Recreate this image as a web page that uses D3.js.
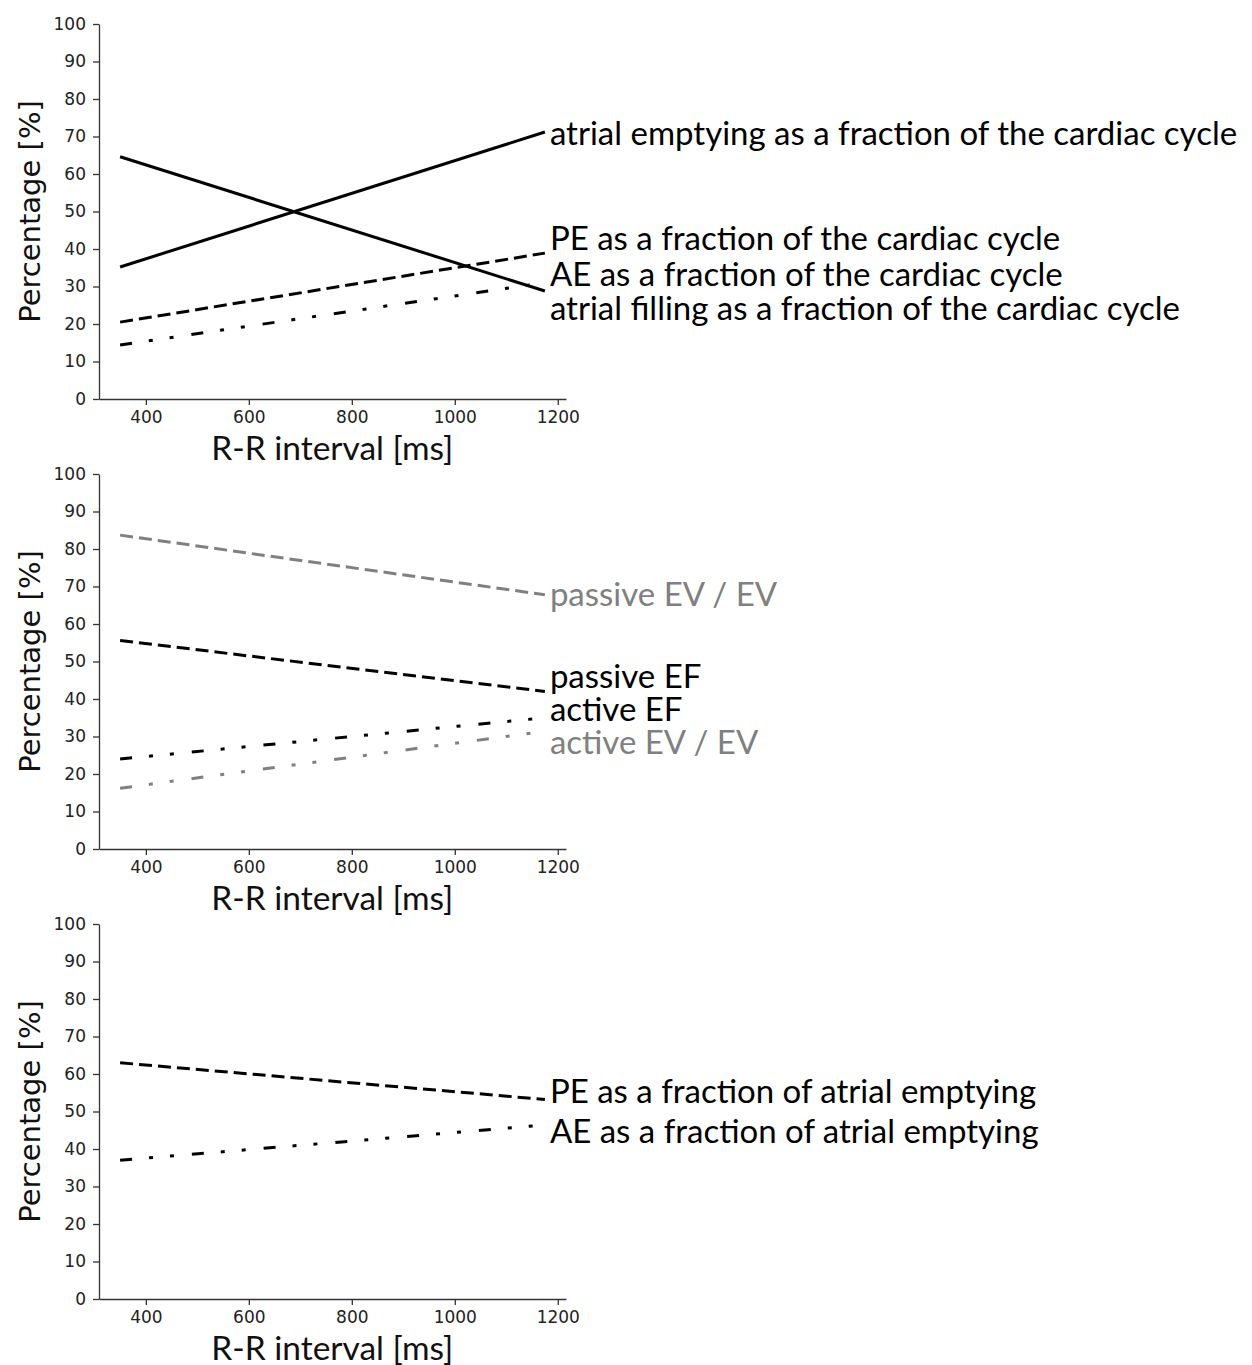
<!DOCTYPE html>
<html>
<head>
<meta charset="utf-8">
<script src="https://cdn.jsdelivr.net/npm/d3@7"></script>
<style>
  body { margin: 0; background: #fff; }
  svg { display: block; }
  .tick text { font-family: "DejaVu Sans", sans-serif; font-size: 17px; fill: #222; }
  .domain, .tick line { stroke: #333; stroke-width: 1.3; }
  .ylab { font-family: "DejaVu Sans", sans-serif; font-size: 29px; fill: #111; }
  .xlab { font-family: "Lato", sans-serif; font-size: 33.5px; fill: #111; }
  .note { font-family: "Lato", sans-serif; font-size: 33px; }
</style>
</head>
<body>
<svg id="chart" width="1252" height="1365"></svg>
<script>
'use strict';

// ---- Data -------------------------------------------------------------------

const rrInterval = [350, 1175];   // ms, start and end of each fitted line
const xTicks = [400, 600, 800, 1000, 1200];
const yTicks = [0, 10, 20, 30, 40, 50, 60, 70, 80, 90, 100];

// Panel 1: fractions of the cardiac cycle
const atrialEmptyingCycle = [35.2, 71.2];
const atrialFillingCycle  = [64.6, 28.8];
const peCycle             = [20.5, 38.9];
const aeCycle             = [14.4, 31.0];

// Panel 2: ejection fractions and volume ratios
const passiveEvEv = [83.7, 67.8];
const passiveEf   = [55.6, 42.0];
const activeEf    = [24.0, 35.0];
const activeEvEv  = [16.2, 31.4];

// Panel 3: fractions of atrial emptying
const peEmptying = [63.0, 53.2];
const aeEmptying = [37.0, 46.4];

const panels = [
  {
    series: [
      { values: atrialEmptyingCycle, style: 'solid',   color: '#000' },
      { values: atrialFillingCycle,  style: 'solid',   color: '#000' },
      { values: peCycle,             style: 'dashed',  color: '#000' },
      { values: aeCycle,             style: 'dashdot', color: '#000' },
    ],
    notes: [
      { text: 'atrial emptying as a fraction of the cardiac cycle', at: 71.0, color: '#000' },
      { text: 'PE as a fraction of the cardiac cycle',              at: 42.9, color: '#000' },
      { text: 'AE as a fraction of the cardiac cycle',              at: 33.2, color: '#000' },
      { text: 'atrial filling as a fraction of the cardiac cycle',  at: 24.2, color: '#000' },
    ],
  },
  {
    series: [
      { values: passiveEvEv, style: 'dashed',  color: '#808080' },
      { values: passiveEf,   style: 'dashed',  color: '#000' },
      { values: activeEf,    style: 'dashdot', color: '#000' },
      { values: activeEvEv,  style: 'dashdot', color: '#808080' },
    ],
    notes: [
      { text: 'passive EV / EV', at: 68.0, color: '#808080' },
      { text: 'passive EF',      at: 46.2, color: '#000' },
      { text: 'active EF',       at: 37.2, color: '#000' },
      { text: 'active EV / EV',  at: 28.6, color: '#808080' },
    ],
  },
  {
    series: [
      { values: peEmptying, style: 'dashed',  color: '#000' },
      { values: aeEmptying, style: 'dashdot', color: '#000' },
    ],
    notes: [
      { text: 'PE as a fraction of atrial emptying', at: 55.5, color: '#000' },
      { text: 'AE as a fraction of atrial emptying', at: 44.8, color: '#000' },
    ],
  },
];

const DASH = { solid: null, dashed: '13,6', dashdot: '12,17,4,17,4,18' };

// ---- Layout -----------------------------------------------------------------

const PANEL_STEP = 450;
const PLOT_TOP = 24, PLOT_BOTTOM = 399;
const AXIS_LEFT = 99, AXIS_RIGHT = 566;

const svg = d3.select('#chart');

const x = d3.scaleLinear().domain([309, 1216]).range([AXIS_LEFT, AXIS_RIGHT]);

panels.forEach((panel, i) => {
  const off = i * PANEL_STEP;
  const y = d3.scaleLinear().domain([0, 100]).range([PLOT_BOTTOM + off, PLOT_TOP + off]);
  const g = svg.append('g');

  g.append('g')
    .attr('transform', `translate(${AXIS_LEFT},0)`)
    .call(d3.axisLeft(y).tickValues(yTicks).tickFormat(d3.format('d'))
      .tickSize(6).tickSizeOuter(0).tickPadding(7));

  g.append('g')
    .attr('transform', `translate(0,${PLOT_BOTTOM + off})`)
    .call(d3.axisBottom(x).tickValues(xTicks).tickFormat(d3.format('d'))
      .tickSize(6).tickSizeOuter(0).tickPadding(6));

  g.append('text')
    .attr('class', 'ylab')
    .attr('transform', `translate(40,${y(50)}) rotate(-90)`)
    .attr('text-anchor', 'middle')
    .text('Percentage [%]');

  g.append('text')
    .attr('class', 'xlab')
    .attr('x', x(762))
    .attr('y', PLOT_BOTTOM + off + 61)
    .attr('text-anchor', 'middle')
    .text('R-R interval [ms]');

  const line = d3.line().x((d, j) => x(rrInterval[j])).y(d => y(d));

  g.selectAll('.series')
    .data(panel.series)
    .join('path')
    .attr('class', 'series')
    .attr('d', d => line(d.values))
    .attr('fill', 'none')
    .attr('stroke', d => d.color)
    .attr('stroke-width', 3)
    .attr('stroke-dasharray', d => DASH[d.style]);

  g.selectAll('.note')
    .data(panel.notes)
    .join('text')
    .attr('class', 'note')
    .attr('x', x(1175) + 5)
    .attr('y', d => y(d.at))
    .attr('dy', '0.36em')
    .attr('fill', d => d.color)
    .text(d => d.text);
});
</script>
</body>
</html>
